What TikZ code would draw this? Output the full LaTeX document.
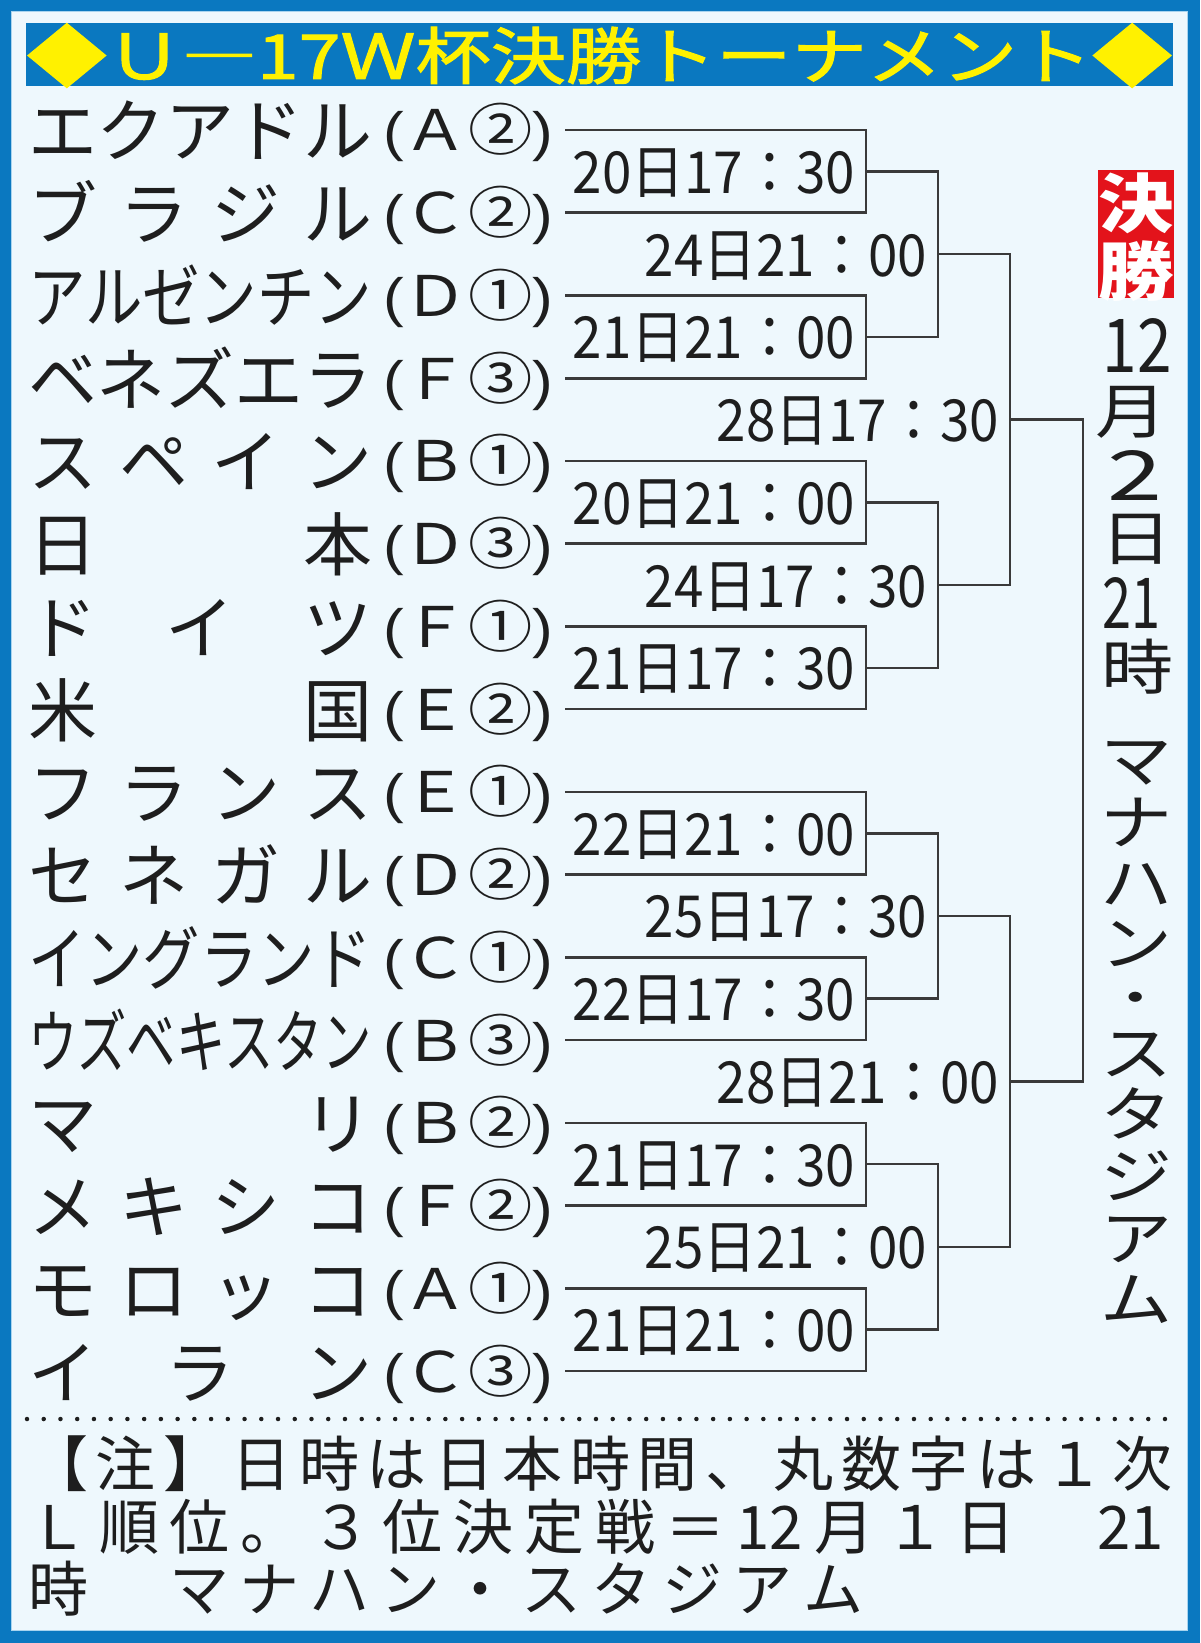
\documentclass[tikz,border=0pt]{standalone}
\usepackage{fontspec}
\usepackage{graphicx}
\newfontfamily\jp{Noto Sans CJK JP}
\newfontfamily\jpt{Noto Sans CJK JP}[FakeBold=1.6]
\newfontfamily\parf{Liberation Sans}
\definecolor{frameblue}{HTML}{0A78C0}
\definecolor{barblue}{HTML}{0A78C0}
\definecolor{bgblue}{HTML}{EEF8FD}
\definecolor{edgeblue}{HTML}{A8D4EF}
\definecolor{ttlyellow}{HTML}{FFF100}
\definecolor{redbox}{HTML}{E3131B}
\definecolor{inkc}{HTML}{1E1E1E}
\definecolor{linegray}{HTML}{3A3A3A}
\tikzset{
  ln/.style={line width=2.6pt, draw=linegray},
  nm/.style={anchor=base west, inner sep=0pt, text=inkc, font=\jp\fontsize{69}{69}\selectfont},
  grp/.style={anchor=base west, inner sep=0pt, text=inkc, font=\jp\fontsize{56}{56}\selectfont},
  dt/.style={anchor=base east, inner sep=0pt, text=inkc, font=\jp\fontsize{58}{58}\selectfont},
  vt/.style={anchor=base, inner sep=0pt, text=inkc, font=\jp\fontsize{60}{60}\selectfont},
  ft/.style={anchor=base west, inner sep=0pt, text=inkc, font=\jp\fontsize{60}{60}\selectfont},
  fin/.style={anchor=base, inner sep=0pt, text=white, font=\jp\bfseries\fontsize{64}{64}\selectfont},
}
\newcommand\grpl[1]{\resizebox{170pt}{\height}{{\parf\fontsize{54}{54}\selectfont(}#1{\parf\fontsize{54}{54}\selectfont)}}}
\newcommand\dtl[1]{\resizebox{282pt}{\height}{#1}}
\newcommand\vch[1]{\scalebox{1.2}[1]{#1}}
\newcommand\bigdia{\raisebox{-1.5pt}{\scalebox{1.06}{◆}}}
\begin{document}
\begin{tikzpicture}[x=1pt,y=-1pt]
\useasboundingbox (0,0) rectangle (1200,1643);
% frame
\fill[frameblue] (0,0) rectangle (1200,1643);
\fill[bgblue] (11,11) rectangle (1188,1631);
\draw[edgeblue, line width=1.5pt] (11.5,11.5) rectangle (1187.5,1630.5);
% title
\node[fill=barblue, minimum width=1147pt, minimum height=63pt, inner sep=0pt] (bar) at (599.5,54.5) {};
\node[anchor=base, inner sep=0pt, text=ttlyellow, font=\jpt\fontsize{62}{62}\selectfont] (title) at (599.5,79) {\resizebox{1145pt}{\height}{\bigdia Ｕ―17Ｗ杯決勝トーナメント\bigdia}};
% team names
\node[nm] (n0) at (28,157.0) {\hbox to 344pt{エ\hss ク\hss ア\hss ド\hss ル}};
\node[nm] (n1) at (28,239.7) {\hbox to 344pt{ブ\hss ラ\hss ジ\hss ル}};
\node[nm] (n2) at (28,322.5) {\resizebox{344pt}{\height}{アルゼンチン}};
\node[nm] (n3) at (28,405.2) {\hbox to 344pt{ベ\hss ネ\hss ズ\hss エ\hss ラ}};
\node[nm] (n4) at (28,487.9) {\hbox to 344pt{ス\hss ペ\hss イ\hss ン}};
\node[nm] (n5) at (28,570.7) {\hbox to 344pt{日\hss 本}};
\node[nm] (n6) at (28,653.4) {\hbox to 344pt{ド\hss イ\hss ツ}};
\node[nm] (n7) at (28,736.1) {\hbox to 344pt{米\hss 国}};
\node[nm] (n8) at (28,818.8) {\hbox to 344pt{フ\hss ラ\hss ン\hss ス}};
\node[nm] (n9) at (28,901.6) {\hbox to 344pt{セ\hss ネ\hss ガ\hss ル}};
\node[nm] (n10) at (28,984.3) {\resizebox{344pt}{\height}{イングランド}};
\node[nm] (n11) at (28,1067.0) {\resizebox{344pt}{\height}{ウズベキスタン}};
\node[nm] (n12) at (28,1149.8) {\hbox to 344pt{マ\hss リ}};
\node[nm] (n13) at (28,1232.5) {\hbox to 344pt{メ\hss キ\hss シ\hss コ}};
\node[nm] (n14) at (28,1315.2) {\hbox to 344pt{モ\hss ロ\hss ッ\hss コ}};
\node[nm] (n15) at (28,1398.0) {\hbox to 344pt{イ\hss ラ\hss ン}};
% group labels
\node[grp] (g0) at (383,151.0) {\grpl{Ａ②}};
\node[grp] (g1) at (383,233.7) {\grpl{Ｃ②}};
\node[grp] (g2) at (383,316.5) {\grpl{Ｄ①}};
\node[grp] (g3) at (383,399.2) {\grpl{Ｆ③}};
\node[grp] (g4) at (383,481.9) {\grpl{Ｂ①}};
\node[grp] (g5) at (383,564.7) {\grpl{Ｄ③}};
\node[grp] (g6) at (383,647.4) {\grpl{Ｆ①}};
\node[grp] (g7) at (383,730.1) {\grpl{Ｅ②}};
\node[grp] (g8) at (383,812.8) {\grpl{Ｅ①}};
\node[grp] (g9) at (383,895.6) {\grpl{Ｄ②}};
\node[grp] (g10) at (383,978.3) {\grpl{Ｃ①}};
\node[grp] (g11) at (383,1061.0) {\grpl{Ｂ③}};
\node[grp] (g12) at (383,1143.8) {\grpl{Ｂ②}};
\node[grp] (g13) at (383,1226.5) {\grpl{Ｆ②}};
\node[grp] (g14) at (383,1309.2) {\grpl{Ａ①}};
\node[grp] (g15) at (383,1392.0) {\grpl{Ｃ③}};
% bracket coordinates
\foreach \i/\y in {0/130.0,1/212.7,2/295.5,3/378.2,4/460.9,5/543.7,6/626.4,7/709.1,8/791.8,9/874.6,10/957.3,11/1040.0,12/1122.8,13/1205.5,14/1288.2,15/1371.0}
  \coordinate (t\i) at (565,\y);
\foreach \j/\y in {0/171.4,1/336.8,2/502.3,3/667.8,4/833.2,5/998.7,6/1164.1,7/1329.6}
  \coordinate (a\j) at (866,\y);
\foreach \k/\y in {0/254.1,1/585.0,2/915.9,3/1246.9}
  \coordinate (b\k) at (938,\y);
\coordinate (c0) at (1010,419.6);
\coordinate (c1) at (1010,1081.4);
\coordinate (fz) at (1083,750.5);
% bracket lines
\foreach \j in {0,...,7}{
  \pgfmathtruncatemacro\p{2*\j}\pgfmathtruncatemacro\q{2*\j+1}
  \draw[ln] (t\p) -| (a\j) |- (t\q);
}
\foreach \k in {0,...,3}{
  \pgfmathtruncatemacro\p{2*\k}\pgfmathtruncatemacro\q{2*\k+1}
  \draw[ln] (a\p) -| (b\k) |- (a\q);
}
\draw[ln] (b0) -| (c0) |- (b1);
\draw[ln] (b2) -| (c1) |- (b3);
\draw[ln] (c0) -| (fz) |- (c1);
% dates
\node[dt] (d0) at ([xshift=-11pt,yshift=-22pt]a0) {\dtl{20日17：30}};
\node[dt] (d1) at ([xshift=-11pt,yshift=-22pt]a1) {\dtl{21日21：00}};
\node[dt] (d2) at ([xshift=-11pt,yshift=-22pt]a2) {\dtl{20日21：00}};
\node[dt] (d3) at ([xshift=-11pt,yshift=-22pt]a3) {\dtl{21日17：30}};
\node[dt] (d4) at ([xshift=-11pt,yshift=-22pt]a4) {\dtl{22日21：00}};
\node[dt] (d5) at ([xshift=-11pt,yshift=-22pt]a5) {\dtl{22日17：30}};
\node[dt] (d6) at ([xshift=-11pt,yshift=-22pt]a6) {\dtl{21日17：30}};
\node[dt] (d7) at ([xshift=-11pt,yshift=-22pt]a7) {\dtl{21日21：00}};
\node[dt] (e0) at ([xshift=-11pt,yshift=-22pt]b0) {\dtl{24日21：00}};
\node[dt] (e1) at ([xshift=-11pt,yshift=-22pt]b1) {\dtl{24日17：30}};
\node[dt] (e2) at ([xshift=-11pt,yshift=-22pt]b2) {\dtl{25日17：30}};
\node[dt] (e3) at ([xshift=-11pt,yshift=-22pt]b3) {\dtl{25日21：00}};
\node[dt] (h0) at ([xshift=-11pt,yshift=-22pt]c0) {\dtl{28日17：30}};
\node[dt] (h1) at ([xshift=-11pt,yshift=-22pt]c1) {\dtl{28日21：00}};
% final label
\node[fill=redbox, minimum width=76pt, minimum height=128pt, inner sep=0pt] (rb) at (1136,234) {};
\node[fin] (k1) at (1136,227) {\scalebox{1.18}[1]{決}};
\node[fin] (k2) at (1136,295) {\scalebox{1.18}[1]{勝}};
% vertical date
\node[vt] (v1) at (1137,372) {\resizebox{69pt}{54pt}{12}};
\node[vt] (v2) at (1131,433) {\vch{月}};
\node[vt] (v3) at (1135,500) {\resizebox{55pt}{50pt}{2}};
\node[vt] (v4) at (1136,560) {\vch{日}};
\node[vt] (v5) at (1131,628) {\resizebox{58pt}{51pt}{21}};
\node[vt] (v6) at (1137,689) {\vch{時}};
% vertical venue
\node[vt] (w1) at (1136,782) {\vch{マ}};
\node[vt] (w2) at (1136,844) {\vch{ナ}};
\node[vt] (w3) at (1136,905) {\vch{ハ}};
\node[vt] (w4) at (1136,965) {\vch{ン}};
\node[vt, font=\jp\fontsize{48}{48}\selectfont] (w5) at (1136,1015.4) {\scalebox{1.3}[1]{・}};
\node[vt] (w6) at (1136,1075) {\vch{ス}};
\node[vt] (w7) at (1136,1136) {\vch{タ}};
\node[vt] (w8) at (1136,1198) {\vch{ジ}};
\node[vt] (w9) at (1136,1260) {\vch{ア}};
\node[vt] (w10) at (1136,1321) {\vch{ム}};
% footer
\coordinate (dl) at (27,1419);
\coordinate (dr) at (1165,1419);
\draw[inkc, line width=4.5pt, line cap=round, dash pattern=on 0pt off 16.735pt] (dl) -- (dr);
\node[ft] (f1) at (28,1486) {\hbox to 1144pt{【\hfil 注\hfil 】\hfil 日\hfil 時\hfil は\hfil 日\hfil 本\hfil 時\hfil 間\hfil 、\hfil 丸\hfil 数\hfil 字\hfil は\hfil １\hfil 次}};
\node[ft] (f2) at (28,1549) {\hbox to 1136pt{Ｌ\hfil 順\hfil 位\hfil 。\hfil ３\hfil 位\hfil 決\hfil 定\hfil 戦\hfil ＝\hfil 12\hfil 月\hfil １\hfil 日\hfil 　\hfil 21}};
\node[ft] (f3) at (28,1611) {\hbox to 835pt{時\hfil 　\hfil マ\hfil ナ\hfil ハ\hfil ン\hfil ・\hfil ス\hfil タ\hfil ジ\hfil ア\hfil ム}};
\end{tikzpicture}
\end{document}
